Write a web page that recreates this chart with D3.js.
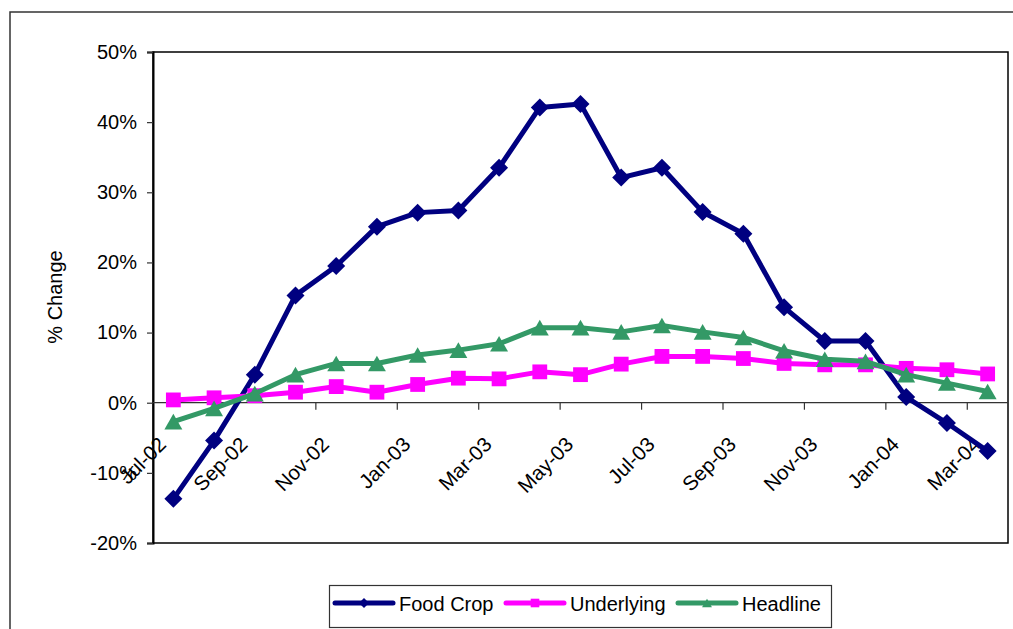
<!DOCTYPE html>
<html>
<head>
<meta charset="utf-8">
<script src="https://cdnjs.cloudflare.com/ajax/libs/d3/7.8.5/d3.min.js"></script>
<style>
  html, body { margin: 0; padding: 0; background: #fff; }
  svg { display: block; font-family: "Liberation Sans", Arial, sans-serif; }
</style>
</head>
<body>
<svg id="chart" width="1013" height="629"></svg>
<script>
// Monthly categories, Jul-02 .. Mar-04
const months = ["Jul-02","Aug-02","Sep-02","Oct-02","Nov-02","Dec-02","Jan-03","Feb-03","Mar-03",
  "Apr-03","May-03","Jun-03","Jul-03","Aug-03","Sep-03","Oct-03","Nov-03","Dec-03","Jan-04","Feb-04","Mar-04"];

// Annual % change per series
const foodCrop   = [-13.7, -5.4, 4.0, 15.3, 19.5, 25.1, 27.1, 27.4, 33.5, 42.1, 42.6, 32.1, 33.5, 27.2, 24.1, 13.6, 8.8, 8.8, 0.8, -2.9, -6.9];
const underlying = [0.4, 0.7, 1.0, 1.5, 2.3, 1.5, 2.6, 3.5, 3.4, 4.4, 4.0, 5.5, 6.6, 6.6, 6.3, 5.6, 5.4, 5.4, 4.9, 4.7, 4.1];
const headline   = [-2.7, -0.8, 1.3, 4.0, 5.6, 5.6, 6.8, 7.5, 8.4, 10.7, 10.7, 10.1, 11.0, 10.1, 9.3, 7.4, 6.2, 5.9, 4.0, 2.8, 1.6];

const yTicks = [-20, -10, 0, 10, 20, 30, 40, 50];
const xLabels = months.filter((m, i) => i % 2 === 0);
const seriesNames = ["Food Crop", "Underlying", "Headline"];

const series = [
  { name: seriesNames[0], values: foodCrop,   color: "#000080", marker: "diamond" },
  { name: seriesNames[1], values: underlying, color: "#FF00FF", marker: "square" },
  { name: seriesNames[2], values: headline,   color: "#339966", marker: "triangle" }
];

const svg = d3.select("#chart");
const plot = { left: 153, right: 1008, top: 52, bottom: 543 };

const x = d3.scaleBand().domain(months).range([plot.left, plot.right]).paddingInner(0).paddingOuter(0);
const y = d3.scaleLinear().domain([-20, 50]).range([plot.bottom, plot.top]);
const cx = m => x(m) + x.bandwidth() / 2;

// Outer chart frame
svg.append("rect")
  .attr("x", 10).attr("y", 12).attr("width", 1020).attr("height", 640)
  .attr("fill", "none").attr("stroke", "#333").attr("stroke-width", 1.5);

// Plot area border
svg.append("rect")
  .attr("x", plot.left).attr("y", plot.top)
  .attr("width", plot.right - plot.left).attr("height", plot.bottom - plot.top)
  .attr("fill", "none").attr("stroke", "#000").attr("stroke-width", 1.5);

// Y axis
const yAxis = d3.axisLeft(y).tickValues(yTicks).tickSize(6).tickPadding(10).tickFormat(d => d + "%");
const yg = svg.append("g").attr("transform", `translate(${plot.left},0)`).call(yAxis);
yg.select(".domain").attr("stroke", "#000").attr("stroke-width", 2);
yg.selectAll(".tick line").attr("stroke", "#333").attr("stroke-width", 1.2);
yg.selectAll(".tick text").attr("font-size", 20).attr("fill", "#000")
  .attr("font-family", "Liberation Sans, Arial, sans-serif");

// X axis along the zero line: tick marks between every second category
const y0 = y(0);
const xAxis = d3.axisBottom(x).tickValues(months.filter((m, i) => i % 2 === 0 && i > 0)).tickSize(7).tickFormat("");
const xg = svg.append("g").attr("transform", `translate(0,${y0})`).call(xAxis);
xg.select(".domain").attr("stroke", "#333").attr("stroke-width", 1.2).attr("d", `M${plot.left},0H${plot.right}`);
xg.selectAll(".tick").attr("transform", d => `translate(${x(d)},0)`);
xg.selectAll(".tick line").attr("stroke", "#333").attr("stroke-width", 1.2);

// Rotated category labels
svg.append("g").selectAll("text")
  .data(xLabels)
  .join("text")
  .attr("transform", d => `translate(${cx(d) - 11},${y0 + 38}) rotate(-45)`)
  .attr("text-anchor", "end")
  .attr("dy", "0.35em")
  .attr("font-size", 20.5)
  .attr("fill", "#000")
  .text(d => d);

// Axis title
svg.append("text")
  .attr("transform", "translate(61.5,297) rotate(-90)")
  .attr("text-anchor", "middle")
  .attr("font-size", 20)
  .attr("fill", "#000")
  .text("% Change");

// Marker shapes
function markerPath(type, s) {
  if (type === "diamond") return `M0,${-s}L${s},0L0,${s}L${-s},0Z`;
  if (type === "square") return `M${-s},${-s}H${s}V${s}H${-s}Z`;
  return `M0,${-s}L${s * 1.15},${s}H${-s * 1.15}Z`;
}
const markerSize = { diamond: 9, square: 7.4, triangle: 7.8 };

const line = d3.line().x((d, i) => cx(months[i])).y(d => y(d));

series.forEach(s => {
  const g = svg.append("g");
  g.append("path")
    .attr("d", line(s.values))
    .attr("fill", "none")
    .attr("stroke", s.color)
    .attr("stroke-width", 5)
    .attr("stroke-linejoin", "round");
  g.selectAll("path.m")
    .data(s.values)
    .join("path")
    .attr("class", "m")
    .attr("transform", (d, i) => `translate(${cx(months[i])},${y(d)})`)
    .attr("d", markerPath(s.marker, markerSize[s.marker]))
    .attr("fill", s.color);
});

// Legend
const legend = svg.append("g");
legend.append("rect")
  .attr("x", 329.5).attr("y", 585.5).attr("width", 502).attr("height", 42)
  .attr("fill", "#fff").attr("stroke", "#333").attr("stroke-width", 1.2);
const legendX = [335, 506, 678];
series.forEach((s, i) => {
  const lx = legendX[i], ly = 603;
  legend.append("line")
    .attr("x1", lx).attr("x2", lx + 58).attr("y1", ly).attr("y2", ly)
    .attr("stroke", s.color).attr("stroke-width", 5).attr("stroke-linecap", "round");
  legend.append("path")
    .attr("transform", `translate(${lx + 29},${ly})`)
    .attr("d", markerPath(s.marker, s.marker === "diamond" ? 5 : 4.3))
    .attr("fill", s.color);
  legend.append("text")
    .attr("x", lx + 64).attr("y", 610.5)
    .attr("font-size", 20).attr("fill", "#000")
    .text(s.name);
});
</script>
</body>
</html>
